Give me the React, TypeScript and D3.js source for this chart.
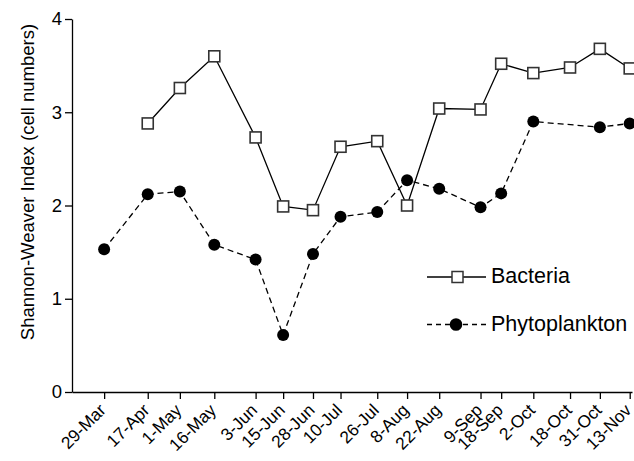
import React, { useEffect, useRef } from 'react';
import * as d3 from 'd3';

// tick labels on the x axis (sampling dates)
const dateLabels = ['29-Mar', '17-Apr', '1-May', '16-May', '3-Jun', '15-Jun', '28-Jun', '10-Jul',
  '26-Jul', '8-Aug', '22-Aug', '9-Sep', '18-Sep', '2-Oct', '18-Oct', '31-Oct', '13-Nov'];

const bacteriaDates = ['17-Apr', '1-May', '16-May', '3-Jun', '15-Jun', '28-Jun', '10-Jul', '26-Jul',
  '8-Aug', '22-Aug', '9-Sep', '18-Sep', '2-Oct', '18-Oct', '31-Oct', '13-Nov'];
const bacteriaValues = [2.88, 3.26, 3.6, 2.73, 1.99, 1.95, 2.63, 2.69, 2.0, 3.04, 3.03, 3.52, 3.42, 3.48, 3.68, 3.47];

const phytoDates = ['29-Mar', '17-Apr', '1-May', '16-May', '3-Jun', '15-Jun', '28-Jun', '10-Jul',
  '26-Jul', '8-Aug', '22-Aug', '9-Sep', '18-Sep', '2-Oct', '31-Oct', '13-Nov'];
const phytoValues = [1.53, 2.12, 2.15, 1.58, 1.42, 0.61, 1.48, 1.88, 1.93, 2.27, 2.18, 1.98, 2.13, 2.9, 2.84, 2.88];

const yTicks = [0, 1, 2, 3, 4];

const FONT = '"Liberation Sans", Arial, Helvetica, sans-serif';

const App = () => {
  const svgRef = useRef<SVGSVGElement>(null);
  const width = 634;
  const height = 461;

  useEffect(() => {
    document.body.style.margin = '0';
    const parse = d3.utcParse('%d-%b');

    d3.select(svgRef.current).selectAll('*').remove();
    const svg = d3.select(svgRef.current)
      .attr('width', width)
      .attr('height', height);

    const x = d3.scaleUtc()
      .domain([parse('15-Mar') as Date, parse('14-Nov') as Date])
      .range([72, 632]);
    const y = d3.scaleLinear().domain([0, 4]).range([392, 19]);

    // ejes
    const xAxis = svg.append('g')
      .attr('transform', `translate(0,${y(0)})`)
      .call(d3.axisBottom(x)
        .tickValues(dateLabels.map(d => parse(d) as Date))
        .tickSize(7)
        .tickSizeOuter(0)
        .tickFormat((d, i) => dateLabels[i]));
    xAxis.selectAll('line, path').attr('stroke', '#000').attr('stroke-width', 1.3);
    xAxis.selectAll('text')
      .attr('font-family', FONT)
      .attr('font-size', 17.3)
      .attr('fill', '#000')
      .attr('text-anchor', 'end')
      .attr('transform', 'translate(-2,15) rotate(-45)')
      .attr('dy', '0.35em')
      .attr('y', 0)
      .attr('x', 0);

    const yAxis = svg.append('g')
      .attr('transform', `translate(72,0)`)
      .call(d3.axisLeft(y).tickValues(yTicks).tickSize(7).tickSizeOuter(0).tickFormat(d3.format('d')));
    yAxis.selectAll('line, path').attr('stroke', '#000').attr('stroke-width', 1.3);
    yAxis.selectAll('text')
      .attr('font-family', FONT)
      .attr('font-size', 18.5)
      .attr('fill', '#000')
      .attr('x', -10);

    svg.append('text')
      .attr('transform', `translate(28,182) rotate(-90)`)
      .attr('text-anchor', 'middle')
      .attr('dy', '0.35em')
      .attr('font-family', FONT)
      .attr('font-size', 18.5)
      .text('Shannon-Weaver Index (cell numbers)');

    const bacteria = bacteriaDates.map((d, i) => ({ date: parse(d) as Date, value: bacteriaValues[i] }));
    const phyto = phytoDates.map((d, i) => ({ date: parse(d) as Date, value: phytoValues[i] }));

    const line = d3.line<{ date: Date; value: number }>()
      .x(d => x(d.date))
      .y(d => y(d.value));

    // lineas
    svg.append('path')
      .datum(phyto)
      .attr('fill', 'none')
      .attr('stroke', '#000')
      .attr('stroke-width', 1.3)
      .attr('stroke-dasharray', '6,4')
      .attr('d', line);

    svg.append('path')
      .datum(bacteria)
      .attr('fill', 'none')
      .attr('stroke', '#000')
      .attr('stroke-width', 1.3)
      .attr('d', line);

    // marcadores
    svg.selectAll('.dot')
      .data(phyto)
      .enter()
      .append('circle')
      .attr('class', 'dot')
      .attr('cx', d => x(d.date))
      .attr('cy', d => y(d.value))
      .attr('r', 6)
      .attr('fill', '#000');

    const sq = 11;
    svg.selectAll('.sq')
      .data(bacteria)
      .enter()
      .append('rect')
      .attr('class', 'sq')
      .attr('x', d => x(d.date) - sq / 2)
      .attr('y', d => y(d.value) - sq / 2)
      .attr('width', sq)
      .attr('height', sq)
      .attr('fill', '#fff')
      .attr('stroke', '#333')
      .attr('stroke-width', 1.6);

    // leyenda
    const legend = svg.append('g');
    const rows = [
      { name: 'Bacteria', dash: null, y: 277 },
      { name: 'Phytoplankton', dash: '5,4', y: 324.5 }
    ];
    rows.forEach((r, i) => {
      legend.append('line')
        .attr('x1', 427).attr('x2', 486)
        .attr('y1', r.y).attr('y2', r.y)
        .attr('stroke', '#000')
        .attr('stroke-width', 1.3)
        .attr('stroke-dasharray', r.dash);
      if (i === 0) {
        legend.append('rect')
          .attr('x', 452).attr('y', r.y - 5.5)
          .attr('width', 11).attr('height', 11)
          .attr('fill', '#fff').attr('stroke', '#333').attr('stroke-width', 1.5);
      } else {
        legend.append('circle')
          .attr('cx', 456).attr('cy', r.y).attr('r', 6.3).attr('fill', '#000');
      }
      legend.append('text')
        .attr('x', 491)
        .attr('y', r.y)
        .attr('dy', '0.3em')
        .attr('font-family', FONT)
        .attr('font-size', 21.5)
        .text(r.name);
    });
  }, []);

  return (
    <div style={{ width, height, overflow: 'hidden' }}>
      <svg ref={svgRef} style={{ display: 'block' }} />
    </div>
  );
};

export default App;
